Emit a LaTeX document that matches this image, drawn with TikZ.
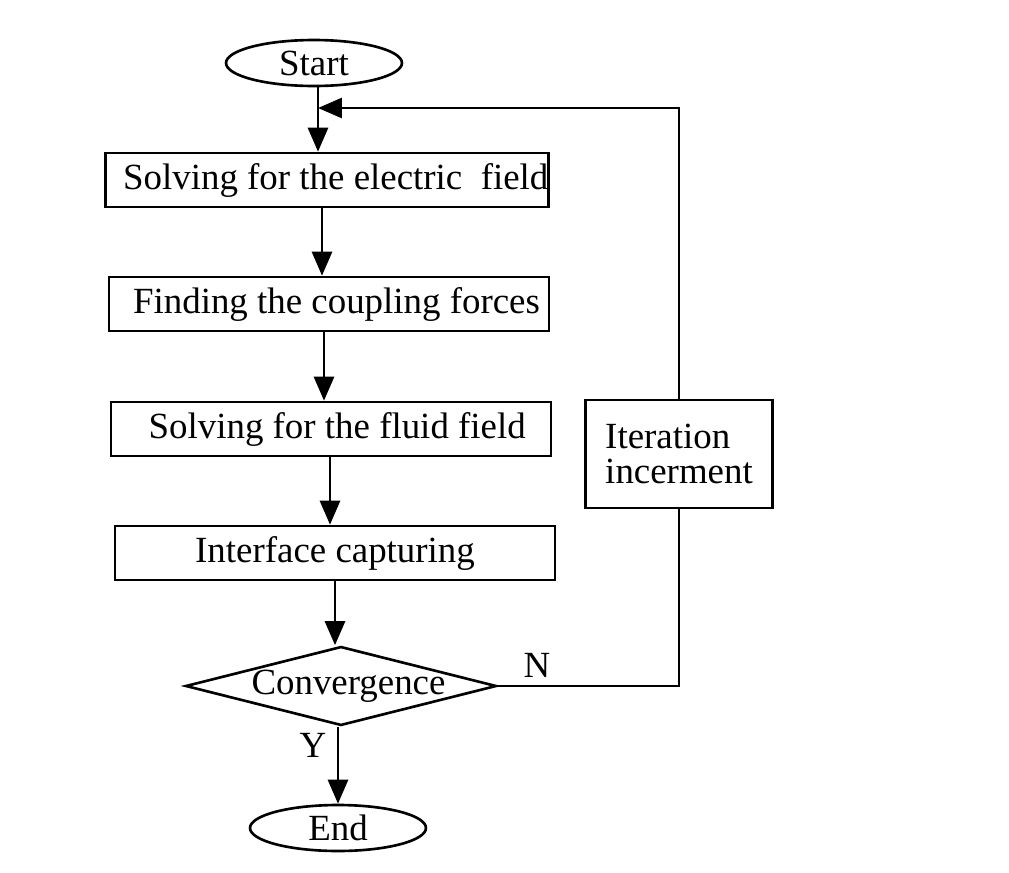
\documentclass[tikz,border=0pt]{standalone}
\usepackage{fontspec}
\setmainfont{Liberation Serif}
\usetikzlibrary{arrows.meta, shapes.geometric, positioning}

\begin{document}
\begin{tikzpicture}[x=0.02cm, y=-0.02cm,
  every node/.style={font=\fontsize{21pt}{20pt}\selectfont},
  terminal/.style={ellipse, draw, line width=1.5pt, minimum width=3.52cm, minimum height=0.92cm, inner sep=0pt},
  process/.style={rectangle, draw, line width=1.5pt, minimum width=8.8cm, minimum height=1.08cm, inner sep=0pt},
  decision/.style={diamond, draw, line width=1.5pt, minimum width=6.22cm, minimum height=1.58cm, inner sep=0pt},
  line/.style={line width=1.6pt},
  arr/.style={line, -{Triangle[length=0.48cm, width=0.4cm]}}
]
\useasboundingbox (0,0) rectangle (1009,873);
% --- main column ---
\node[terminal] (start) at (314,63) {Start};
\node[process] (elec) at (327,180) {\hspace{0.35cm}Solving for the electric\ \ field};
\node[process] (force) at (329,304) {\hspace{0.3cm}Finding the coupling forces};
\node[process] (fluid) at (331,429) {\hspace{0.25cm}Solving for the fluid field};
\node[process] (iface) at (335,553) {Interface capturing};
\node[decision, label=center:{\hspace{0.3cm}Convergence}] (conv) at (341,686) {};
\node[terminal] (end) at (338,828) {End};
% --- loop back ---
\node[process, minimum width=3.74cm, minimum height=2.16cm, align=left] (iter) at (679,454)
  {Iteration\\incerment};
\coordinate (join) at (318,108);
\node at (537,665) {N};
\node at (313,745) {Y};
% --- connectors ---
\draw[line] (start.south -| join) -- (join);
\draw[arr] (join) -- (join |- elec.north);
\draw[arr] (elec.south -| 322,0) -- (force.north -| 322,0);
\draw[arr] (force.south -| 324,0) -- (fluid.north -| 324,0);
\draw[arr] (fluid.south -| 330,0) -- (iface.north -| 330,0);
\draw[arr] (iface.south -| 335,0) -- (conv.north -| 335,0);
\draw[arr] (conv.south -| 338,0) -- (end.north -| 338,0);
\draw[line] (conv.east) -| (iter.south);
\draw[arr] (iter.north) |- (join);
\end{tikzpicture}
\end{document}
